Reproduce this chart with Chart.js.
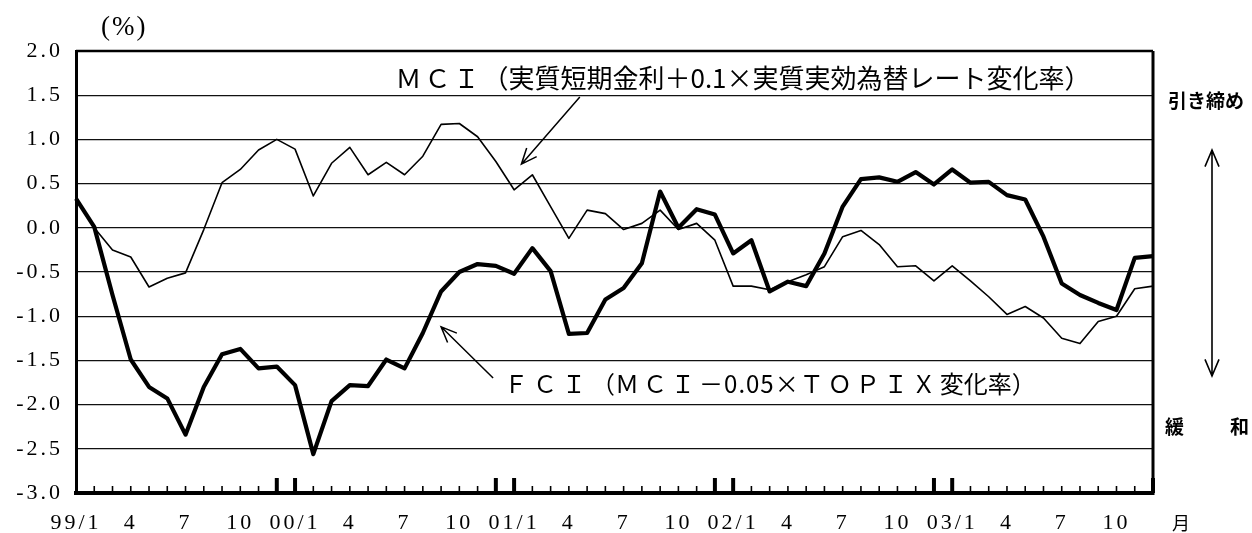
<!DOCTYPE html>
<html>
<head>
<meta charset="utf-8">
<script src="https://cdn.jsdelivr.net/npm/chart.js@4.4.1/dist/chart.umd.min.js"></script>
<style>
  html, body { margin: 0; padding: 0; background: #fff; }
  #wrap { width: 1252px; height: 533px; position: relative; }
</style>
</head>
<body>
<div id="wrap"><canvas id="fciCanvas"></canvas></div>
<script>
// monthly, 99/1 .. 03/12
const years = ['99', '00', '01', '02', '03'];
const tickLabels = ['99/1', '4', '7', '10', '00/1', '4', '7', '10', '01/1', '4', '7', '10',
                    '02/1', '4', '7', '10', '03/1', '4', '7', '10'];

// MCI (thin line)
const mciValues = [
   0.35,  0.00, -0.25, -0.33, -0.67, -0.57, -0.51, -0.02,  0.51,  0.66,  0.88,  1.00,
   0.89,  0.36,  0.73,  0.91,  0.60,  0.74,  0.60,  0.81,  1.17,  1.18,  1.03,  0.75,
   0.43,  0.60,  0.24, -0.12,  0.20,  0.16, -0.02,  0.05,  0.20, -0.02,  0.05, -0.14,
  -0.66, -0.66, -0.70, -0.61, -0.53, -0.44, -0.10, -0.03, -0.19, -0.44, -0.43, -0.60,
  -0.43, -0.60, -0.78, -0.98, -0.89, -1.02, -1.25, -1.31, -1.06, -1.00, -0.69, -0.66
];
// FCI (thick line)
const fciValues = [
   0.33,  0.01, -0.76, -1.49, -1.80, -1.93, -2.34, -1.80, -1.43, -1.37, -1.59, -1.57,
  -1.78, -2.56, -1.96, -1.78, -1.79, -1.49, -1.59, -1.19, -0.72, -0.50, -0.41, -0.43,
  -0.52, -0.23, -0.49, -1.20, -1.19, -0.81, -0.68, -0.40,  0.41,  0.00,  0.21,  0.15,
  -0.29, -0.14, -0.72, -0.61, -0.66, -0.29,  0.24,  0.55,  0.57,  0.52,  0.63,  0.49,
   0.66,  0.51,  0.52,  0.37,  0.32, -0.10, -0.63, -0.76, -0.85, -0.93, -0.34, -0.32
];

const categories = [];
years.forEach(function (yy) {
  for (let m = 1; m <= 12; m++) categories.push(yy + '/' + m);
});

const serif = '"Liberation Serif", "DejaVu Serif", serif';
const cjk = '"Noto Sans CJK JP", "Noto Sans", sans-serif';

// draw a row of text pieces, each with its own letter spacing
function drawRuns(ctx, runs, x, y) {
  runs.forEach(function (r) {
    ctx.letterSpacing = '0px';
    const w = ctx.measureText(r[0]).width + r[1] * r[0].length;
    ctx.letterSpacing = r[1] + 'px';
    ctx.fillText(r[0], x, y);
    x += w;
  });
  ctx.letterSpacing = '0px';
}

function arrow(ctx, x1, y1, x2, y2, len, lw) {
  const a = Math.atan2(y2 - y1, x2 - x1);
  ctx.lineWidth = lw;
  ctx.beginPath();
  ctx.moveTo(x1, y1);
  ctx.lineTo(x2, y2);
  ctx.moveTo(x2 - len * Math.cos(a - 0.4), y2 - len * Math.sin(a - 0.4));
  ctx.lineTo(x2, y2);
  ctx.lineTo(x2 - len * Math.cos(a + 0.4), y2 - len * Math.sin(a + 0.4));
  ctx.stroke();
}

const extras = {
  id: 'extras',
  beforeDraw: function (chart) {
    // spaced out tick digits like the printed chart (labels are drawn before the lines)
    chart.ctx.letterSpacing = '3px';
  },
  beforeDatasetsDraw: function (chart) {
    chart.ctx.letterSpacing = '0px';
  },
  afterDraw: function (chart) {
    const ctx = chart.ctx;
    const area = chart.chartArea;
    const xs = chart.scales.x;
    const ys = chart.scales.y;
    ctx.save();
    ctx.letterSpacing = '0px';
    ctx.strokeStyle = '#000';
    ctx.fillStyle = '#000';
    ctx.lineCap = 'butt';

    // top and right frame
    ctx.lineWidth = 2.5;
    ctx.beginPath();
    ctx.moveTo(area.left, area.top);
    ctx.lineTo(area.right, area.top);
    ctx.stroke();
    ctx.lineWidth = 3;
    ctx.beginPath();
    ctx.moveTo(area.right, area.top);
    ctx.lineTo(area.right, area.bottom + 2);
    ctx.stroke();

    // month ticks inside the bottom axis, heavy ones at year change
    for (let i = 1; i < categories.length; i++) {
      const px = xs.getPixelForValue(i);
      const big = (i % 12 === 11 || i % 12 === 0);
      ctx.lineWidth = big ? 4 : 1.6;
      ctx.beginPath();
      ctx.moveTo(px, area.bottom);
      ctx.lineTo(px, area.bottom - (big ? 15 : 7));
      ctx.stroke();
    }

    // series annotations
    ctx.textBaseline = 'middle';
    ctx.textAlign = 'left';
    ctx.font = '26px ' + cjk;
    drawRuns(ctx, [['ＭＣＩ', 3], ['（実質短期金利＋0.1×実質実効為替レート変化率）', 0]],
             xs.getPixelForValue(17.5), ys.getPixelForValue(1.69));
    ctx.font = '24px ' + cjk;
    drawRuns(ctx, [['ＦＣＩ', 5], ['（', 0], ['ＭＣＩ', 4], ['－0.05×', 1], ['ＴＯＰＩＸ', 4], ['変化率）', 0]],
             xs.getPixelForValue(23.45), ys.getPixelForValue(-1.76));

    arrow(ctx, xs.getPixelForValue(27.6), ys.getPixelForValue(1.48),
          xs.getPixelForValue(24.4), ys.getPixelForValue(0.72), 17, 1.5);
    arrow(ctx, xs.getPixelForValue(22.85), ys.getPixelForValue(-1.70),
          xs.getPixelForValue(20.0), ys.getPixelForValue(-1.12), 17, 1.5);

    // unit label
    ctx.font = '27px ' + serif;
    drawRuns(ctx, [['(%)', 2]], 101, 28);

    // right side: tightening / easing
    ctx.font = 'bold 19px ' + cjk;
    ctx.fillText('引き締め', 1168, 101);
    ctx.fillText('緩', 1165, 427);
    ctx.fillText('和', 1230, 427);
    arrow(ctx, 1212, 262, 1212, 150, 18, 1.6);
    arrow(ctx, 1212, 262, 1212, 376, 18, 1.6);

    ctx.font = '18px ' + cjk;
    ctx.fillText('月', 1172, 523);
    ctx.restore();
  }
};

new Chart(document.getElementById('fciCanvas'), {
  type: 'line',
  data: {
    labels: categories,
    datasets: [
      {
        label: 'MCI',
        data: mciValues,
        borderColor: '#000',
        borderWidth: 1.6,
        pointRadius: 0,
        tension: 0,
        borderJoinStyle: 'round'
      },
      {
        label: 'FCI',
        data: fciValues,
        borderColor: '#000',
        borderWidth: 4.2,
        pointRadius: 0,
        tension: 0,
        borderJoinStyle: 'round'
      }
    ]
  },
  options: {
    responsive: true,
    maintainAspectRatio: false,
    animation: false,
    layout: { padding: { left: 0, top: 51, right: 99, bottom: 0 } },
    plugins: {
      legend: { display: false },
      tooltip: { enabled: false }
    },
    scales: {
      x: {
        offset: false,
        grid: { display: false },
        border: { display: true, color: '#000', width: 4 },
        ticks: {
          autoSkip: false,
          maxRotation: 0,
          minRotation: 0,
          padding: 9,
          color: '#000',
          font: { family: serif, size: 22 },
          callback: function (val, idx) {
            return idx % 3 === 0 ? tickLabels[idx / 3] : '';
          }
        },
        afterFit: function (scale) { scale.height = 40; }
      },
      y: {
        min: -3,
        max: 2,
        grid: { color: '#111', lineWidth: 1.2, drawTicks: false },
        border: { display: true, color: '#000', width: 3 },
        ticks: {
          stepSize: 0.5,
          padding: 13,
          color: '#000',
          font: { family: serif, size: 22 },
          callback: function (v) { return v.toFixed(1); }
        },
        afterFit: function (scale) { scale.width = 76; }
      }
    }
  },
  plugins: [extras]
});
</script>
</body>
</html>
